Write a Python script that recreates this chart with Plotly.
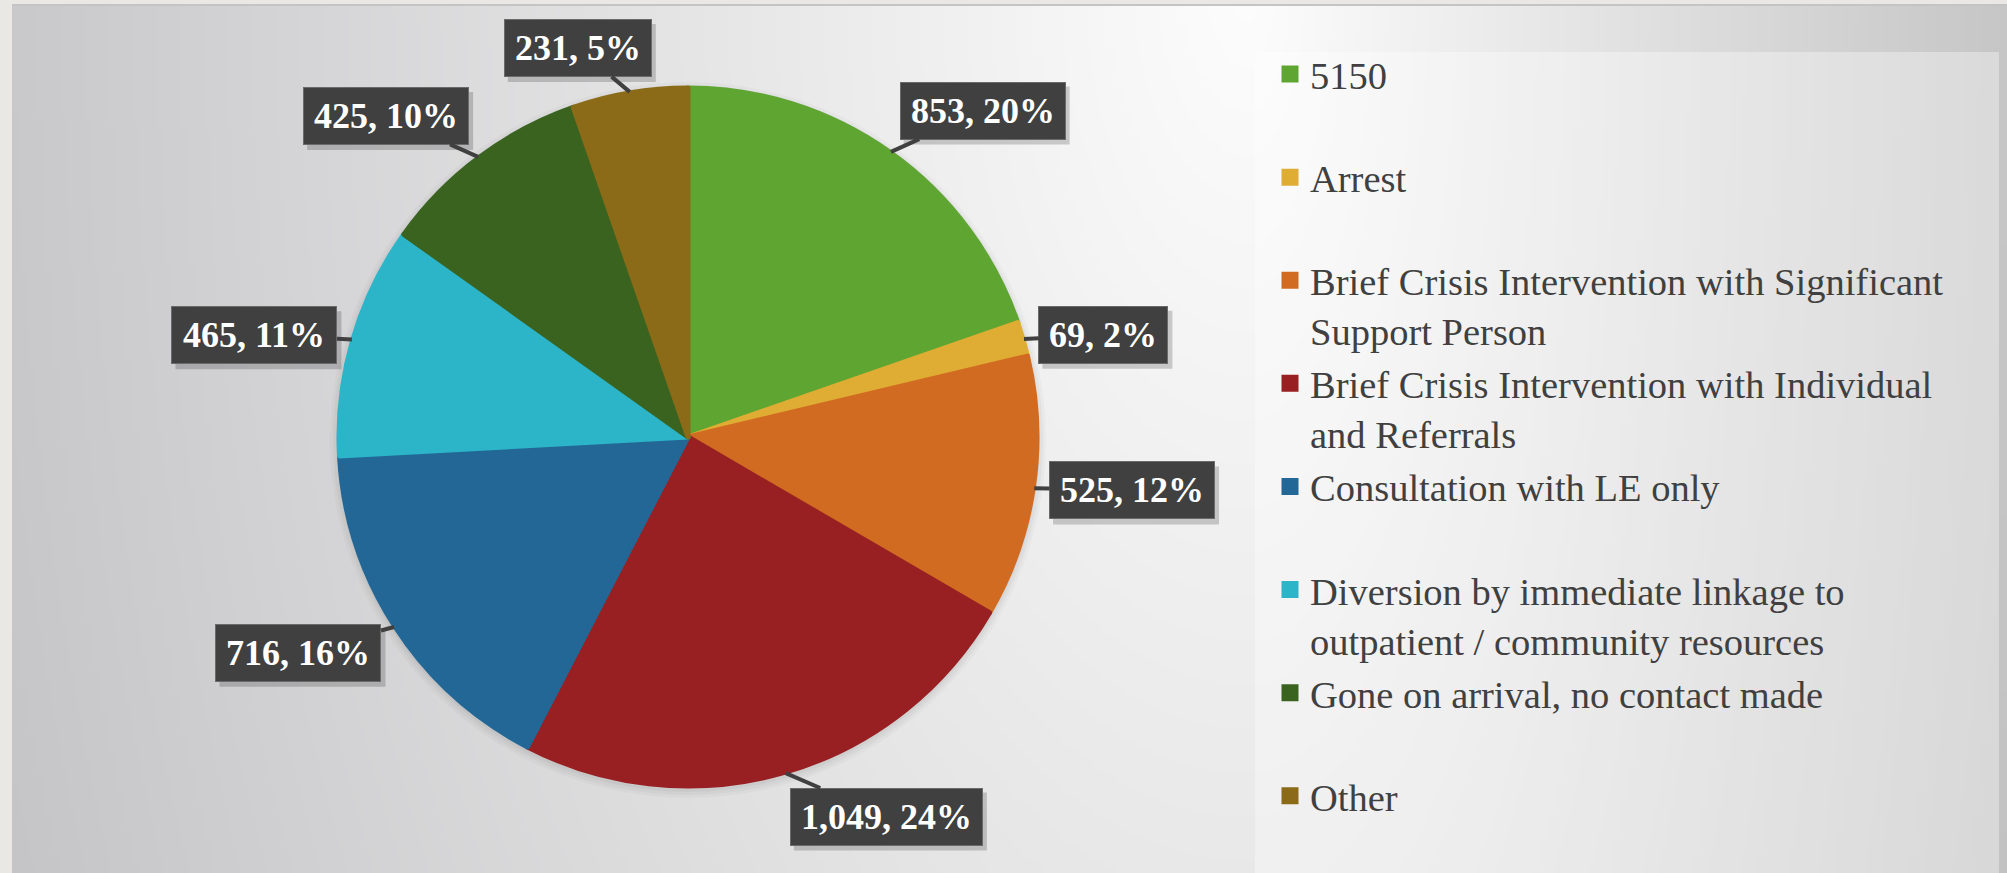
import base64
import math
import struct
import zlib

import numpy as np
import plotly.graph_objects as go

# ---------------- data ----------------
categories = [
    "5150",
    "Arrest",
    "Brief Crisis Intervention with Significant<br>Support Person",
    "Brief Crisis Intervention with Individual<br>and Referrals",
    "Consultation with LE only",
    "Diversion by immediate linkage to<br>outpatient / community resources",
    "Gone on arrival, no contact made",
    "Other",
]
values = [853, 69, 525, 1049, 716, 465, 425, 231]
percent_labels = ["20%", "2%", "12%", "24%", "16%", "11%", "10%", "5%"]
colors = ["#5ea532", "#dfad33", "#d26b22", "#982022",
          "#236796", "#2cb4c8", "#3a631f", "#8b6a18"]

# ---------------- layout constants ----------------
W, H = 2007, 873
CX, CY, R = 688, 437, 349          # pie centre / radius in px
LBL_FONT = 36
LBL_PAD = 7
LBL_TEXT_H = 42
LBL_H = LBL_TEXT_H + 2 * LBL_PAD + 2
GAP = 15


def png_data_uri(arr):
    h, w, _ = arr.shape
    raw = b"".join(b"\x00" + arr[i].tobytes() for i in range(h))

    def chunk(t, d):
        c = struct.pack(">I", len(d)) + t + d
        return c + struct.pack(">I", zlib.crc32(t + d) & 0xFFFFFFFF)

    png = (b"\x89PNG\r\n\x1a\n"
           + chunk(b"IHDR", struct.pack(">IIBBBBB", w, h, 8, 2, 0, 0, 0))
           + chunk(b"IDAT", zlib.compress(raw, 9))
           + chunk(b"IEND", b""))
    return "data:image/png;base64," + base64.b64encode(png).decode()


# background gradient (style only)
gw, gh = 500, 217
xs = np.linspace(12, W, gw)
ys = np.linspace(5, H, gh)
X, Y = np.meshgrid(xs, ys)
dx = X - 1250
sx = np.where(dx < 0, 1240.0, 720.0)
d = np.sqrt((dx / sx) ** 2 + ((Y + 20) / 2300.0) ** 2)
v = np.clip(253 - 52 * d, 150, 255)
blue = np.clip((1 - X / 900.0), 0, 1) * 3
bg = np.stack([v, v, np.clip(v + blue, 0, 255)], axis=-1).astype(np.uint8)
bg_uri = png_data_uri(bg)


def px2paper(x, y):
    return x / W, 1 - y / H


def text_em(s):
    em = 0.0
    for ch in s:
        if ch.isdigit():
            em += 0.5
        elif ch in ", ":
            em += 0.25
        elif ch == "%":
            em += 1.0
        else:
            em += 0.5
    return em


def sgn(a):
    return 1.0 if a >= 0 else -1.0


fig = go.Figure()

pie_x0, pie_y1 = px2paper(CX - R, CY - R)
pie_x1, pie_y0 = px2paper(CX + R, CY + R)

legend_names = [c if "<br>" in c else c + "<br>\u00a0" for c in categories]

fig.add_trace(go.Pie(
    labels=legend_names,
    values=values,
    sort=False,
    direction="clockwise",
    rotation=0,
    textinfo="none",
    hoverinfo="label+value+percent",
    marker=dict(colors=colors, line=dict(color=colors, width=5)),
    domain=dict(x=[pie_x0, pie_x1], y=[pie_y0, pie_y1]),
    showlegend=True,
))

shapes = []
# pie soft shadow
for k, a in [(9, 0.025), (6, 0.03), (3, 0.035)]:
    x0, y1 = px2paper(CX - R - k, CY - R - k + 3)
    x1, y0 = px2paper(CX + R + k, CY + R + k + 3)
    shapes.append(dict(type="circle", xref="paper", yref="paper",
                       x0=x0, x1=x1, y0=y0, y1=y1,
                       fillcolor=f"rgba(0,0,0,{a})", line=dict(width=0),
                       layer="below"))

# data labels as callouts, positioned from the slice mid-angles
total = float(sum(values))
annotations = []
cum = 0.0
for val, pct in zip(values, percent_labels):
    theta = 2 * math.pi * (cum + val / 2.0) / total
    cum += val
    ux, uy = math.sin(theta), -math.cos(theta)
    ex, ey = CX + (R + 1) * ux, CY + (R + 1) * uy
    text = f"{val:,}, {pct}"
    text_w = text_em(text) * LBL_FONT + 6
    w = text_w + 2 * LBL_PAD + 2
    fx = min(1.0, abs(ux) / 0.25)
    fy = min(1.0, max(0.0, (abs(uy) - 0.3) / 0.4))
    ox = sgn(ux) * w / 2 * fx + GAP * ux
    oy = sgn(uy) * LBL_H / 2 * fy + GAP * uy
    bx, by = ex + ox, ey + oy
    px, py = px2paper(ex, ey)
    annotations.append(dict(
        x=px, y=py, xref="paper", yref="paper",
        ax=ox, ay=oy, axref="pixel", ayref="pixel",
        text=text, showarrow=True, arrowhead=0, arrowwidth=4,
        arrowcolor="#404040", standoff=0,
        width=text_w, height=LBL_TEXT_H, align="center", valign="middle",
        bgcolor="#404040", bordercolor="#6a6a6a", borderwidth=1,
        borderpad=LBL_PAD,
        font=dict(family="Liberation Serif", size=LBL_FONT,
                  color="white", weight="bold"),
    ))
    # drop shadow of the label box
    sx0, sy0 = px2paper(bx - w / 2 + 4, by - LBL_H / 2 + 5)
    sx1, sy1 = px2paper(bx + w / 2 + 4, by + LBL_H / 2 + 5)
    shapes.append(dict(type="rect", xref="paper", yref="paper",
                       x0=sx0, x1=sx1, y0=sy1, y1=sy0,
                       fillcolor="rgba(0,0,0,0.18)", line=dict(width=0),
                       layer="above"))

# legend panel
lx0, ly1 = px2paper(1255, 52)
lx1, _ = px2paper(1999, 52)
shapes.append(dict(type="rect", xref="paper", yref="paper",
                   x0=lx0, x1=lx1, y0=0, y1=ly1,
                   fillcolor="rgba(255,255,255,0.35)", line=dict(width=0),
                   layer="below"))
# top frame line
tx0, ty = px2paper(12, 5)
shapes.append(dict(type="line", xref="paper", yref="paper",
                   x0=tx0, x1=1, y0=ty, y1=ty,
                   line=dict(color="#c4c4c4", width=2), layer="below"))

ix, iy = px2paper(12, 5)
fig.update_layout(
    width=W, height=H,
    margin=dict(l=0, r=0, t=0, b=0, autoexpand=False),
    paper_bgcolor="#e9e8e4",
    plot_bgcolor="rgba(0,0,0,0)",
    images=[dict(source=bg_uri, xref="paper", yref="paper",
                 x=ix, y=iy, sizex=1 - ix, sizey=iy,
                 xanchor="left", yanchor="top", sizing="stretch",
                 layer="below")],
    shapes=shapes,
    annotations=annotations,
    legend=dict(
        x=1270 / W, y=1 - 42.5 / H, xanchor="left", yanchor="top",
        bgcolor="rgba(0,0,0,0)", borderwidth=0,
        font=dict(family="Liberation Serif", size=38.5, color="#404040"),
        valign="top", tracegroupgap=0,
    ),
)

fig.write_html("out.html",
               config={"displayModeBar": False},
               post_script="document.body.style.margin='0';")
